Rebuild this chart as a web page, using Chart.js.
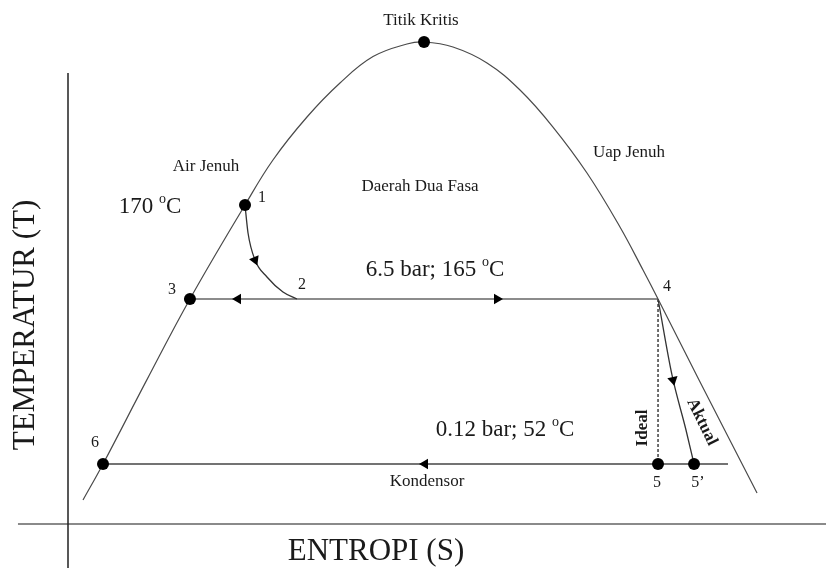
<!DOCTYPE html>
<html>
<head>
<meta charset="utf-8">
<script src="https://cdn.jsdelivr.net/npm/chart.js@4/dist/chart.umd.min.js"></script>
<style>
    html, body { margin: 0; padding: 0; background: #fff; }
    #wrap { width: 826px; height: 568px; }
</style>
</head>
<body>
<div id="wrap"><canvas id="tsChart" width="826" height="568"></canvas></div>
<script>

// schematic T-S diagram, entropy (x) and temperature (y) on a 0-100 scale

// saturation dome (Air Jenuh -> Titik Kritis -> Uap Jenuh)
const domeS = [1.98, 4.62, 10.4, 16.09, 23.35, 27.04, 31.53, 35.88, 40.24, 44.72, 46.97,
               50.79, 55.28, 59.63, 63.98, 68.47, 72.82, 75.86, 77.84, 83.25, 90.90];
const domeT = [4.58, 11.45, 27.5, 42.94, 60.88, 69.47, 77.67, 84.16, 89.2, 91.6, 91.98,
               91.03, 87.98, 82.82, 75.76, 66.98, 56.68, 48.47, 42.94, 27.48, 5.92];

// process 1 -> 2
const flashS = [23.35, 23.75, 24.67, 26.25, 28.36, 30.21];
const flashT = [60.88, 55.53, 50.38, 47.14, 44.27, 42.94];

// 6.5 bar line 3 - 4
const hpS = [16.09, 77.84];
const hpT = [42.94, 42.94];

// turbine, ideal 4 -> 5 and actual 4 -> 5'
const idealS = [77.84, 77.84];
const idealT = [42.94, 11.45];
const aktualS = [77.84, 79.68, 81.53, 82.59];
const aktualT = [42.94, 28.44, 17.94, 11.45];

// condenser line 6 - 5'
const condS = [4.62, 87.07];
const condT = [11.45, 11.45];

// state points
const stateNames = ['Titik Kritis', '1', '3', '5', "5'", '6'];
const stateS = [46.97, 23.35, 16.09, 77.84, 82.59, 4.62];
const stateT = [91.98, 60.88, 42.94, 11.45, 11.45, 11.45];

// flow arrows
const arrowS = [24.67, 22.43, 56.60, 79.82, 47.10];
const arrowT = [50.38, 42.94, 42.94, 27.48, 11.45];
const arrowDir = [157, 270, 90, 168, 270];

// axes
const axisYS = [0, 0];
const axisYT = [86.07, -8.4];
const axisXS = [-6.6, 100];
const axisXT = [0, 0];

const pts = (xs, ys) => xs.map((x, i) => ({ x: x, y: ys[i] }));

// text placed in data units
const labels = [
    { text: 'Titik Kritis', s: 46.57, t: 96.0, size: 17 },
    { text: 'Air Jenuh', s: 18.21, t: 68.13, size: 17 },
    { text: 'Daerah Dua Fasa', s: 46.44, t: 64.31, size: 17 },
    { text: 'Uap Jenuh', s: 74.01, t: 70.80, size: 17 },
    { text: 'Kondensor', s: 47.36, t: 8.02, size: 17 },
    { text: '170 ', sup: 'o', after: 'C', s: 10.82, t: 60.50, size: 23 },
    { text: '6.5 bar; 165 ', sup: 'o', after: 'C', s: 48.42, t: 48.47, size: 23 },
    { text: '0.12 bar; 52 ', sup: 'o', after: 'C', s: 57.65, t: 17.94, size: 23 },
    { text: '1', s: 25.59, t: 62.21, size: 16 },
    { text: '2', s: 30.87, t: 45.61, size: 16 },
    { text: '3', s: 13.72, t: 44.66, size: 16 },
    { text: '4', s: 79.02, t: 45.23, size: 16 },
    { text: '5', s: 77.70, t: 7.82, size: 16 },
    { text: '5\u2019', s: 83.1, t: 7.82, size: 16 },
    { text: '6', s: 3.56, t: 15.46, size: 16 },
    { text: 'Ideal', s: 75.86, t: 18.32, size: 17, rot: -90, bold: true },
    { text: 'Aktual', s: 83.64, t: 19.47, size: 17, rot: 64, bold: true },
    { text: 'TEMPERATUR (T)', s: -5.54, t: 37.98, size: 31, rot: -90 },
    { text: 'ENTROPI (S)', s: 40.63, t: -5.34, size: 31 },
];

const labelPlugin = {
    id: 'tsLabels',
    afterDatasetsDraw(chart) {
        const ctx = chart.ctx;
        const xs = chart.scales.x;
        const ys = chart.scales.y;
        ctx.save();
        ctx.fillStyle = '#1a1a1a';
        ctx.textBaseline = 'middle';
        ctx.textAlign = 'left';
        labels.forEach(l => {
            const px = xs.getPixelForValue(l.s);
            const py = ys.getPixelForValue(l.t);
            const font = (l.bold ? 'bold ' : '') + l.size + 'px "Liberation Serif", "Times New Roman", serif';
            const supFont = Math.round(l.size * 0.62) + 'px "Liberation Serif", serif';
            ctx.font = font;
            let w = ctx.measureText(l.text).width;
            let wSup = 0, wAfter = 0;
            if (l.sup) {
                ctx.font = supFont;
                wSup = ctx.measureText(l.sup).width;
                ctx.font = font;
                wAfter = ctx.measureText(l.after).width;
            }
            const total = w + wSup + wAfter;
            ctx.save();
            ctx.translate(px, py);
            if (l.rot) ctx.rotate(l.rot * Math.PI / 180);
            let cx = -total / 2;
            ctx.font = font;
            ctx.fillText(l.text, cx, 0);
            cx += w;
            if (l.sup) {
                ctx.font = supFont;
                ctx.fillText(l.sup, cx, -l.size * 0.32);
                cx += wSup;
                ctx.font = font;
                ctx.fillText(l.after, cx, 0);
            }
            ctx.restore();
        });
        ctx.restore();
    }
};

const lineSet = (data, color, width, extra) => Object.assign({
    data: data,
    showLine: true,
    borderColor: color,
    borderWidth: width,
    pointRadius: 0,
    fill: false,
}, extra || {});

new Chart(document.getElementById('tsChart'), {
    type: 'scatter',
    data: {
        datasets: [
            {
                // state points
                data: pts(stateS, stateT),
                pointRadius: 6,
                pointBackgroundColor: '#000',
                pointBorderWidth: 0,
                showLine: false,
                clip: false,
            },
            {
                // arrows
                data: pts(arrowS, arrowT),
                pointStyle: 'triangle',
                pointRadius: 6,
                pointRotation: arrowDir,
                pointBackgroundColor: '#000',
                pointBorderColor: '#000',
                pointBorderWidth: 0,
                showLine: false,
            },
            lineSet(pts(domeS, domeT), '#4a4a4a', 1.2, { tension: 0.4 }),
            lineSet(pts(flashS, flashT), '#333', 1.3, { cubicInterpolationMode: 'monotone' }),
            lineSet(pts(hpS, hpT), '#666', 1.4),
            lineSet(pts(idealS, idealT), '#111', 1.2, { borderDash: [3, 2] }),
            lineSet(pts(aktualS, aktualT), '#333', 1.3, { cubicInterpolationMode: 'monotone' }),
            lineSet(pts(condS, condT), '#444', 1.6),
            lineSet(pts(axisYS, axisYT), '#222', 1.5, { clip: false }),
            lineSet(pts(axisXS, axisXT), '#8a8a8a', 2, { clip: false }),
        ]
    },
    options: {
        responsive: false,
        animation: false,
        layout: {
            autoPadding: false,
            padding: { left: 68, right: 0, top: 0, bottom: 44 }
        },
        scales: {
            x: { type: 'linear', min: 0, max: 100, display: false },
            y: { type: 'linear', min: 0, max: 100, display: false }
        },
        plugins: {
            legend: { display: false },
            tooltip: { enabled: false }
        }
    },
    plugins: [labelPlugin]
});
</script>
</body>
</html>
